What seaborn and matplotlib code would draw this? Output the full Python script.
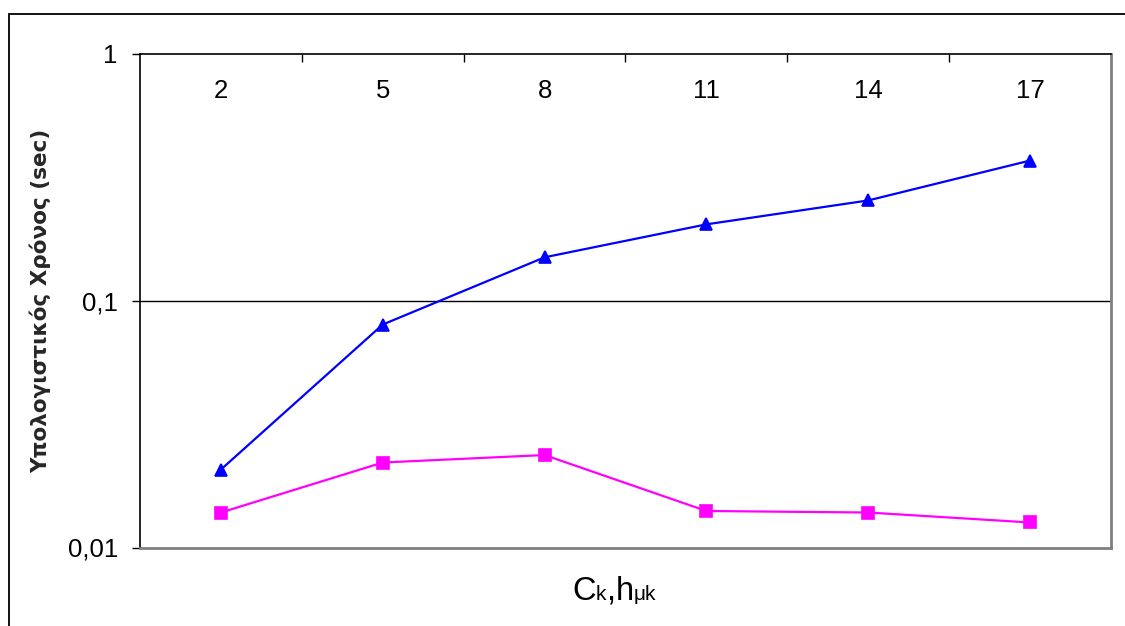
import numpy as np
import pandas as pd
import matplotlib
matplotlib.use("Agg")
import matplotlib.pyplot as plt
import seaborn as sns
from matplotlib.patches import Rectangle
from matplotlib.offsetbox import TextArea, HPacker, AnchoredOffsetbox

# Data
categories = ["2", "5", "8", "11", "14", "17"]
time_triangle = [0.0207, 0.0801, 0.150, 0.204, 0.255, 0.370]
time_square = [0.01386, 0.0221, 0.0237, 0.01406, 0.01386, 0.01263]
y_ticks = [0.01, 0.1, 1]
y_tick_labels = ["0,01", "0,1", "1"]

df = pd.DataFrame({
    "k": categories * 2,
    "t": time_triangle + time_square,
    "series": ["a"] * len(categories) + ["b"] * len(categories),
})

sns.set_theme(style="white")
plt.rcParams["font.family"] = ["Liberation Sans", "DejaVu Sans"]

fig = plt.figure(figsize=(11.25, 6.26), dpi=100)
ax = fig.add_axes([140 / 1125, 1 - 547.5 / 626, 971 / 1125, 493.5 / 626])

sns.pointplot(
    data=df, x="k", y="t", hue="series", order=categories,
    palette={"a": "#0000FF", "b": "#FF00FF"},
    markers=["^", "s"], linestyles=["-", "-"],
    errorbar=None, legend=False, ax=ax,
    markersize=9, linewidth=1.6,
)

ax.set_yscale("log")
ax.set_ylim(0.01, 1)
ax.set_xlim(-0.5, len(categories) - 0.5)
ax.yaxis.set_major_locator(matplotlib.ticker.FixedLocator(y_ticks))
ax.yaxis.set_major_formatter(matplotlib.ticker.FixedFormatter(y_tick_labels))
ax.yaxis.set_minor_locator(matplotlib.ticker.NullLocator())

# horizontal axis sits at the top of the plot area
ax.xaxis.set_ticks_position("top")
ax.xaxis.set_minor_locator(matplotlib.ticker.FixedLocator(np.arange(0.5, len(categories) - 1, 1)))
ax.tick_params(axis="x", which="major", length=0, labeltop=True, labelbottom=False,
               pad=-35, labelsize=18.5, colors="black")
ax.tick_params(axis="x", which="minor", length=6, width=1, direction="in",
               top=True, bottom=False, color="black")
ax.tick_params(axis="y", which="major", left=True, length=6, width=1, direction="out",
               pad=10, labelsize=18.5, colors="black")
ax.set_xlabel("")
ax.set_ylabel("Υπολογιστικός Χρόνος (sec)", fontsize=15.5, fontweight="bold",
              family="DejaVu Sans", labelpad=12)

ax.grid(False)
ax.axhline(0.1, color="black", linewidth=1, zorder=0)

for side in ("left", "top"):
    ax.spines[side].set_color("black")
    ax.spines[side].set_linewidth(1.2)
for side in ("right", "bottom"):
    ax.spines[side].set_color("#808080")
    ax.spines[side].set_linewidth(2)

# axis title built from mixed font sizes, sharing one baseline
big, small = 23.5, 15
title_parts = [("C", big), ("k", small), (",", big), ("h", big), ("μk", small)]
title_box = HPacker(
    children=[TextArea(txt, textprops=dict(fontsize=fs, color="black",
                                           family="Liberation Sans"))
              for txt, fs in title_parts],
    align="baseline", pad=0, sep=0)
anchored = AnchoredOffsetbox(loc="center", child=title_box, frameon=False,
                             bbox_to_anchor=(614 / 1125, 1 - 591 / 626),
                             bbox_transform=fig.transFigure, borderpad=0, pad=0)
fig.add_artist(anchored)

# chart border
fig.add_artist(Rectangle((8.5 / 1125, -0.1), 1.2, 1 - 14 / 626 + 0.1,
                         transform=fig.transFigure, fill=False,
                         edgecolor="black", linewidth=1.3))

fig.savefig("out.png", dpi=100)
